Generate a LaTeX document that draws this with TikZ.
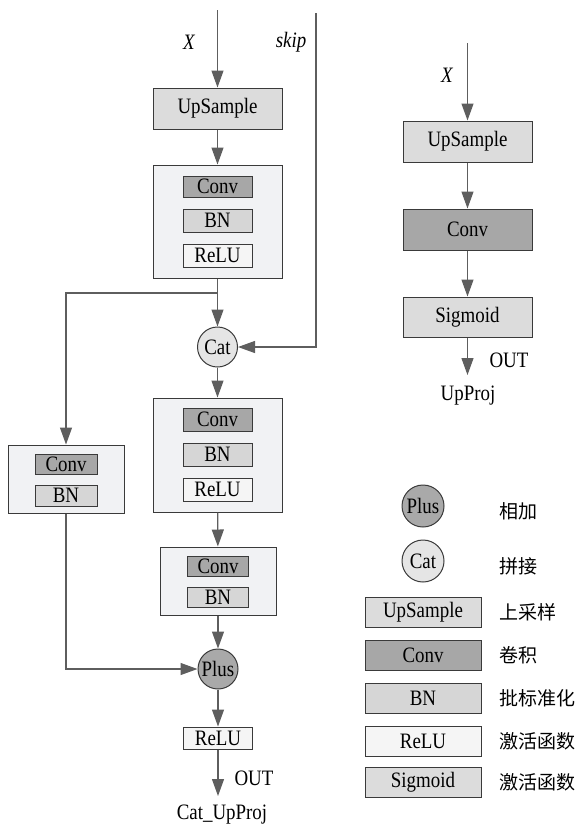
\documentclass[tikz,border=0pt]{standalone}
\usepackage{fontspec}
\setmainfont{Liberation Serif}[FakeStretch=0.86]
\newfontfamily\cjk{Noto Sans CJK SC}
\usetikzlibrary{arrows.meta}

\definecolor{linegray}{HTML}{5E5E5E}
\definecolor{edgegray}{HTML}{3A3A3A}
\definecolor{blockbg}{HTML}{F1F2F4}
\definecolor{upfill}{HTML}{DCDCDC}
\definecolor{convfill}{HTML}{A7A7A7}
\definecolor{bnfill}{HTML}{D6D6D6}
\definecolor{relufill}{HTML}{F5F5F5}
\definecolor{plusfill}{HTML}{A9A9A9}
\definecolor{catfill}{HTML}{E5E5E5}

\tikzset{
  flow/.style={draw=linegray, line width=1.2pt, -{Triangle[length=17pt,width=12pt]}},
  wire/.style={draw=linegray, line width=1.2pt},
  blockbox/.style={draw=edgegray, line width=1pt, fill=blockbg, inner sep=0pt},
  opbox/.style={draw=edgegray, line width=1pt, inner sep=0pt, minimum width=129pt, minimum height=41pt},
  layerbox/.style={draw=edgegray, line width=1pt, inner sep=0pt, minimum width=69pt, minimum height=22pt},
  legbox/.style={draw=edgegray, line width=1pt, inner sep=0pt, minimum width=116pt, minimum height=30pt},
  opcirc/.style={circle, draw=edgegray, line width=1pt, inner sep=0pt, minimum size=40pt},
  cjklabel/.style={anchor=west, font=\fontsize{19}{22}\cjk},
}

\begin{document}
\begin{tikzpicture}[x=1pt, y=-1pt, font=\fontsize{22}{24}\selectfont]
    \useasboundingbox (0,0) rectangle (579,827);

    % Cat_UpProj: main path
    \coordinate (xin) at (217.5,10);
    \node[opbox, fill=upfill] (up1) at (217.5,108.5) {UpSample};
    \node[blockbox, minimum width=129pt, minimum height=113pt] (blk1) at (217.5,221.5) {};
    \node[layerbox, fill=convfill, minimum height=21pt] (conv1) at (217.5,186.5) {Conv};
    \node[layerbox, fill=bnfill, minimum height=23pt] (bn1) at (217.5,220.5) {BN};
    \node[layerbox, fill=relufill, minimum height=23pt] (relu1) at (217.5,255.5) {ReLU};
    \node[opcirc, fill=catfill] (cat) at (217.5,347) {Cat};
    \node[blockbox, minimum width=129pt, minimum height=114pt] (blk2) at (217.5,455) {};
    \node[layerbox, fill=convfill, minimum height=23pt] (conv2) at (217.5,419.5) {Conv};
    \node[layerbox, fill=bnfill, minimum height=23pt] (bn2) at (217.5,454.5) {BN};
    \node[layerbox, fill=relufill, minimum height=23pt] (relu2) at (217.5,489.5) {ReLU};
    \node[blockbox, minimum width=116pt, minimum height=68pt] (blk3) at (218,581) {};
    \node[layerbox, fill=convfill, minimum width=61pt, minimum height=20pt] (conv3) at (218,566) {Conv};
    \node[layerbox, fill=bnfill, minimum width=61pt, minimum height=20pt] (bn3) at (218,597) {BN};
    \node[opcirc, fill=plusfill] (plus) at (218,669) {Plus};
    \node[layerbox, fill=relufill] (relu4) at (218,738) {ReLU};
    \coordinate (out1) at (218,796);

    % side branch
    \node[blockbox, minimum width=116pt, minimum height=68pt] (blk4) at (66,479) {};
    \node[layerbox, fill=convfill, minimum width=62pt, minimum height=20pt] (conv4) at (66,464) {Conv};
    \node[layerbox, fill=bnfill, minimum width=62pt, minimum height=21pt] (bn4) at (66,495.5) {BN};
    \coordinate (split) at (217.5,293);
    \coordinate (skipin) at (316,13);

    \draw[flow] (xin) -- (up1);
    \draw[flow] (up1) -- (blk1);
    \draw[flow] (blk1) -- (cat);
    \draw[flow] (split) -| (blk4);
    \draw[flow] (skipin) |- (cat);
    \draw[flow] (cat) -- (blk2);
    \draw[flow] (blk2) -- (blk3);
    \draw[flow] (blk3) -- (plus);
    \draw[flow] (blk4) |- (plus);
    \draw[flow] (plus) -- (relu4);
    \draw[flow] (relu4) -- (out1);

    \node[font=\fontsize{22}{24}\itshape] (xlab) at (189,42) {X};
    \node[font=\fontsize{22}{24}\itshape] (skiplab) at (291,42) {skip};
    \node[anchor=west] (outlab1) at (231,778) {OUT};
    \node (name1) at (222,815) {Cat\_UpProj};

    % UpProj
    \coordinate (xin2) at (467.5,43);
    \node[opbox, fill=upfill] (up2) at (467.5,141.5) {UpSample};
    \node[opbox, fill=convfill] (conv5) at (467.5,229.5) {Conv};
    \node[opbox, fill=upfill, minimum height=40pt] (sig) at (467.5,317) {Sigmoid};
    \coordinate (out2) at (467.5,375);

    \draw[flow] (xin2) -- (up2);
    \draw[flow] (up2) -- (conv5);
    \draw[flow] (conv5) -- (sig);
    \draw[flow] (sig) -- (out2);

    \node[font=\fontsize{22}{24}\itshape] (xlab2) at (447,75) {X};
    \node[anchor=west] (outlab2) at (486,360) {OUT};
    \node (name2) at (468,396) {UpProj};

    % legend
    \node[opcirc, fill=plusfill, minimum size=42pt] (lplus) at (423,506) {Plus};
    \node[opcirc, fill=catfill, minimum size=42pt] (lcat) at (423,561) {Cat};
    \node[legbox, fill=upfill] (lup) at (423,612) {UpSample};
    \node[legbox, fill=convfill] (lconv) at (423,655.5) {Conv};
    \node[legbox, fill=bnfill] (lbn) at (423,698.5) {BN};
    \node[legbox, fill=relufill] (lrelu) at (423,741.5) {ReLU};
    \node[legbox, fill=upfill] (lsig) at (423,782) {Sigmoid};

    \node[cjklabel] (tplus) at (496,511) {相加};
    \node[cjklabel] (tcat) at (496,566) {拼接};
    \node[cjklabel] (tup) at (496,612) {上采样};
    \node[cjklabel] (tconv) at (496,655.5) {卷积};
    \node[cjklabel] (tbn) at (496,698.5) {批标准化};
    \node[cjklabel] (trelu) at (496,741.5) {激活函数};
    \node[cjklabel] (tsig) at (496,782) {激活函数};
\end{tikzpicture}
\end{document}
